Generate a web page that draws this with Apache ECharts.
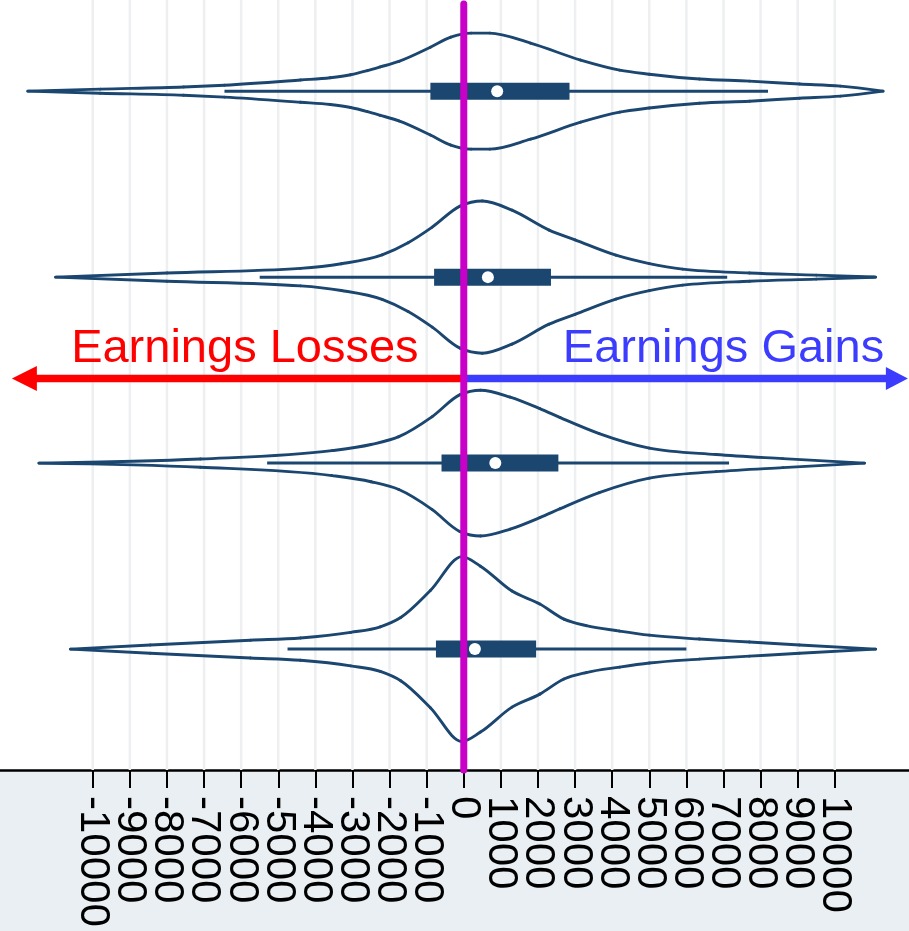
<!DOCTYPE html>
<html>
<head>
<meta charset="utf-8">
<script src="https://cdn.jsdelivr.net/npm/echarts@6/dist/echarts.min.js"></script>
<style>
  html, body { margin: 0; padding: 0; background: #e9eff2; }
  #chart { width: 909px; height: 931px; }
</style>
</head>
<body>
<div id="chart"></div>
<script>
// Tick values along the earnings-change axis
const tickValues = [-10000, -9000, -8000, -7000, -6000, -5000, -4000, -3000, -2000, -1000,
  0, 1000, 2000, 3000, 4000, 5000, 6000, 7000, 8000, 9000, 10000];

// Violin outlines: [earnings change, half-width of the density] per group, top to bottom
const outline0 = [[-11750, 0], [-9800, 0.011], [-7550, 0.022], [-6450, 0.032], [-4400, 0.06],
  [-3600, 0.072], [-3050, 0.088], [-2600, 0.11], [-2250, 0.13], [-1750, 0.16], [-900, 0.236],
  [-350, 0.29], [200, 0.312], [700, 0.312], [1800, 0.258], [3150, 0.167], [4200, 0.113],
  [5000, 0.091], [6350, 0.065], [7700, 0.054], [9050, 0.038], [10150, 0.027], [11300, 0]];
const outline1 = [[-11000, 0], [-8000, 0.022], [-4400, 0.047], [-3300, 0.072], [-2200, 0.12],
  [-1500, 0.185], [-850, 0.269], [-100, 0.382], [500, 0.409], [1300, 0.36], [2300, 0.253],
  [3000, 0.2], [4100, 0.118], [5000, 0.073], [5900, 0.043], [7700, 0.022], [9500, 0.011],
  [11100, 0]];
const outline2 = [[-11450, 0], [-7100, 0.022], [-3550, 0.067], [-2500, 0.1], [-1750, 0.142],
  [-850, 0.25], [-100, 0.368], [450, 0.392], [1250, 0.355], [2050, 0.293], [2600, 0.245],
  [3650, 0.159], [5000, 0.081], [6800, 0.046], [8600, 0.024], [10800, 0]];
const outline3 = [[-10600, 0], [-8450, 0.022], [-5750, 0.048], [-4400, 0.06], [-3050, 0.09],
  [-2250, 0.12], [-1700, 0.17], [-900, 0.315], [-50, 0.497], [450, 0.446], [1300, 0.312],
  [2050, 0.242], [2700, 0.161], [3300, 0.126], [4200, 0.097], [5000, 0.075], [6350, 0.054],
  [7700, 0.038], [9050, 0.022], [11100, 0]];
const outlines = [outline0, outline1, outline2, outline3];

// Box-plot summaries per group
const whiskerLow  = [-6450, -5500, -5300, -4750];
const quartile1   = [-900, -800, -600, -750];
const medians     = [900, 650, 850, 300];
const quartile3   = [2850, 2350, 2550, 1950];
const whiskerHigh = [8200, 7100, 7150, 6000];

const NAVY = '#1b4670';
const X_MIN = -12500, X_MAX = 12000;
const Y_MIN = -0.49, Y_MAX = 3.65;

// Label slots: the axis ends carry empty labels so every tick label stays visible
const labelValues = [X_MIN].concat(tickValues, [X_MAX]);

const chart = echarts.init(document.getElementById('chart'), null, { renderer: 'canvas' });

// Monotone cubic (x-monotone) bezier segments through pixel points
function monotoneSegments(pts, style) {
  const n = pts.length;
  const sgn = v => (v > 0 ? 1 : v < 0 ? -1 : 0);
  const t = new Array(n).fill(0);
  for (let k = 1; k < n - 1; k++) {
    const h0 = pts[k][0] - pts[k - 1][0], h1 = pts[k + 1][0] - pts[k][0];
    const s0 = (pts[k][1] - pts[k - 1][1]) / h0, s1 = (pts[k + 1][1] - pts[k][1]) / h1;
    const p = (s0 * h1 + s1 * h0) / (h0 + h1);
    t[k] = (sgn(s0) + sgn(s1)) * Math.min(Math.abs(s0), Math.abs(s1), 0.5 * Math.abs(p)) || 0;
  }
  const hA = pts[1][0] - pts[0][0];
  t[0] = (3 * (pts[1][1] - pts[0][1]) / hA - t[1]) / 2;
  const hB = pts[n - 1][0] - pts[n - 2][0];
  t[n - 1] = (3 * (pts[n - 1][1] - pts[n - 2][1]) / hB - t[n - 2]) / 2;
  const segs = [];
  for (let k = 0; k < n - 1; k++) {
    const [x0, y0] = pts[k], [x1, y1] = pts[k + 1];
    const dx = (x1 - x0) / 3;
    segs.push({
      type: 'bezierCurve',
      shape: { x1: x0, y1: y0, x2: x1, y2: y1,
        cpx1: x0 + dx, cpy1: y0 + dx * t[k], cpx2: x1 - dx, cpy2: y1 - dx * t[k + 1] },
      style: style
    });
  }
  return segs;
}

function renderGridLines(params, api) {
  const children = tickValues.map(v => {
    const a = api.coord([v, Y_MIN]);
    const b = api.coord([v, Y_MAX]);
    return { type: 'line', shape: { x1: a[0], y1: a[1], x2: b[0], y2: b[1] },
      style: { stroke: '#eeeff1', lineWidth: 2.5 } };
  });
  return { type: 'group', children };
}

function renderViolin(params, api) {
  const i = params.dataIndex;
  const pts = outlines[i];
  const upper = pts.map(p => api.coord([p[0], i - p[1]]));
  const lower = pts.map(p => api.coord([p[0], i + p[1]]));
  const wl = api.coord([whiskerLow[i], i]);
  const wh = api.coord([whiskerHigh[i], i]);
  const q1 = api.coord([quartile1[i], i]);
  const q3 = api.coord([quartile3[i], i]);
  const md = api.coord([medians[i], i]);
  const boxH = 17;
  const lineStyle = { stroke: NAVY, lineWidth: 2.9, fill: null, lineCap: 'round' };
  return {
    type: 'group',
    children: [].concat(
      monotoneSegments(upper, lineStyle),
      monotoneSegments(lower, lineStyle),
      [
        { type: 'line', shape: { x1: wl[0], y1: wl[1], x2: wh[0], y2: wh[1] },
          style: { stroke: NAVY, lineWidth: 3 } },
        { type: 'rect', shape: { x: q1[0], y: q1[1] - boxH / 2, width: q3[0] - q1[0], height: boxH },
          style: { fill: NAVY } },
        { type: 'circle', shape: { cx: md[0], cy: md[1], r: 6 }, style: { fill: '#ffffff' } }
      ]
    )
  };
}

function renderAnnotations(params, api) {
  const arrowRow = 1.545;
  const textRow = 1.462;
  const o = api.coord([0, arrowRow]);
  const left = api.coord([-12180, arrowRow]);
  const right = api.coord([11970, arrowRow]);
  const red = '#ff0000', blue = '#3c3cff';
  const lossPos = api.coord([-5900, textRow]);
  const gainPos = api.coord([7000, textRow]);
  const top = api.coord([0, -0.468]);
  const bottom = api.coord([0, Y_MAX]);
  const font = '47px "Liberation Sans", Arial, sans-serif';
  return {
    type: 'group',
    children: [
      { type: 'line', shape: { x1: o[0] - 2, y1: o[1], x2: left[0] + 20, y2: o[1] },
        style: { stroke: red, lineWidth: 7.5, lineCap: 'round' } },
      { type: 'polygon', shape: { points: [[left[0], o[1]], [left[0] + 25, o[1] - 12.5], [left[0] + 25, o[1] + 12.5]] },
        style: { fill: red } },
      { type: 'line', shape: { x1: o[0], y1: o[1], x2: right[0] - 18, y2: o[1] },
        style: { stroke: blue, lineWidth: 7.5 } },
      { type: 'polygon', shape: { points: [[right[0], o[1]], [right[0] - 22, o[1] - 11.5], [right[0] - 22, o[1] + 11.5]] },
        style: { fill: blue } },
      { type: 'text', x: lossPos[0], y: lossPos[1] + 9,
        style: { text: 'Earnings Losses', fill: red, font: font,
          textAlign: 'center', textVerticalAlign: 'bottom' } },
      { type: 'text', x: gainPos[0], y: gainPos[1] + 9,
        style: { text: 'Earnings Gains', fill: blue, font: font,
          textAlign: 'center', textVerticalAlign: 'bottom' } },
      { type: 'line', shape: { x1: top[0], y1: top[1], x2: bottom[0], y2: bottom[1] },
        style: { stroke: '#c800c8', lineWidth: 7, lineCap: 'round' } }
    ]
  };
}

chart.setOption({
  backgroundColor: '#e9eff2',
  animation: false,
  grid: { left: 0, right: 0, top: 0, bottom: 161, show: true, backgroundColor: '#ffffff', borderWidth: 0 },
  xAxis: {
    type: 'value', min: X_MIN, max: X_MAX,
    axisLine: { show: true, onZero: false, lineStyle: { color: '#000000', width: 2.5 } },
    axisTick: { show: true, customValues: tickValues, length: 18, lineStyle: { color: '#000000', width: 2 } },
    axisLabel: {
      customValues: labelValues, rotate: -90, margin: 26, color: '#000000',
      fontSize: 42, lineHeight: 20, fontFamily: '"Liberation Sans", Arial, sans-serif',
      hideOverlap: false, showMinLabel: true, showMaxLabel: true,
      formatter: v => (tickValues.indexOf(v) >= 0 ? String(v) : '')
    },
    splitLine: { show: false }
  },
  yAxis: { type: 'value', inverse: true, min: Y_MIN, max: Y_MAX, show: false, splitLine: { show: false } },
  series: [
    { type: 'custom', z: 1, renderItem: renderGridLines, data: [[0, 0]], silent: true },
    { type: 'custom', z: 2, renderItem: renderViolin, data: medians.map((m, i) => [m, i]), silent: true },
    { type: 'custom', z: 3, renderItem: renderAnnotations, data: [[0, 0]], silent: true }
  ]
});
</script>
</body>
</html>
